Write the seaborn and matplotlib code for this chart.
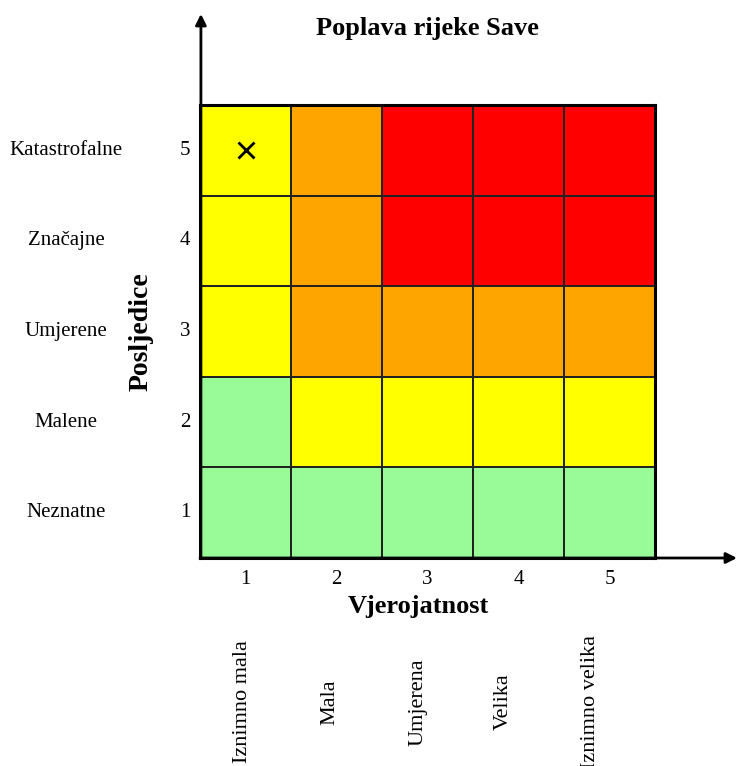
import numpy as np
import pandas as pd
import matplotlib
matplotlib.use("Agg")
import matplotlib.pyplot as plt
from matplotlib.colors import ListedColormap
import seaborn as sns

# Risk matrix data
consequence_levels = [5, 4, 3, 2, 1]            # rows, top to bottom
probability_levels = [1, 2, 3, 4, 5]            # columns, left to right
consequence_names = ["Katastrofalne", "Značajne", "Umjerene", "Malene", "Neznatne"]
probability_names = ["Iznimno mala", "Mala", "Umjerena", "Velika", "Iznimno velika"]

# risk class per cell: 0 = low (green), 1 = yellow, 2 = orange, 3 = red
risk_row5 = [1, 2, 3, 3, 3]
risk_row4 = [1, 2, 3, 3, 3]
risk_row3 = [1, 2, 2, 2, 2]
risk_row2 = [0, 1, 1, 1, 1]
risk_row1 = [0, 0, 0, 0, 0]
risk_colors = ["#98fb98", "#ffff00", "#ffa500", "#ff0000"]

# assessed event (probability, consequence)
event_prob = [1]
event_cons = [5]

SERIF = ["Liberation Serif", "DejaVu Serif"]

sns.set_theme(style="white")
plt.rcParams["font.family"] = SERIF
plt.rcParams["text.color"] = "black"
plt.rcParams["axes.labelcolor"] = "black"
plt.rcParams["xtick.color"] = "black"
plt.rcParams["ytick.color"] = "black"

matrix = pd.DataFrame([risk_row5, risk_row4, risk_row3, risk_row2, risk_row1],
                      index=consequence_levels, columns=probability_levels)

fig = plt.figure(figsize=(7.36, 7.66), dpi=100)
W, H = 736, 766
ax = fig.add_axes([200 / W, (H - 558) / H, 455 / W, 453 / H])

sns.heatmap(matrix, ax=ax, cmap=ListedColormap(risk_colors), vmin=-0.5, vmax=3.5,
            cbar=False, linewidths=1.2, linecolor="#222222", square=False)

for sp in ax.spines.values():
    sp.set_visible(True)
    sp.set_linewidth(2.2)
    sp.set_color("black")

ax.tick_params(axis="both", length=0, labelsize=15, colors="black")
ax.tick_params(axis="x", pad=9)
ax.tick_params(axis="y", pad=7)
ax.set_yticklabels([str(v) for v in consequence_levels], rotation=0)
ax.set_xticklabels([str(v) for v in probability_levels], rotation=0)

ax.set_ylabel("Posljedice", fontsize=20, fontweight="bold", color="black")
ax.yaxis.set_label_coords((154 - 200) / 455, 0.5)
ax.set_xlabel("Vjerojatnost", fontsize=19, fontweight="bold", color="black")
ax.xaxis.set_label_coords((418 - 200) / 455, (558 - 607) / 453)
ax.xaxis.label.set_va("center")

ax.text(0.5, (558 - 35) / 453, "Poplava rijeke Save", transform=ax.transAxes,
        ha="center", va="baseline", fontsize=19, fontweight="bold", color="black")

# consequence names to the left of the numbers
for lvl, name in zip(consequence_levels, consequence_names):
    row = consequence_levels.index(lvl) + 0.5
    ax.text((66 - 200) / 455, row, name, transform=ax.get_yaxis_transform(),
            ha="center", va="center", fontsize=15, color="black")

# probability names, vertical, under the axis label
shift = [0.03, 0.07, 0.1, 0.17, 0.21]
for i, name in enumerate(probability_names):
    ax.text(i + 0.5 - shift[i], (558 - 702) / 453, name, transform=ax.get_xaxis_transform(),
            ha="center", va="center", rotation=90, fontsize=16, color="black", clip_on=False)

# marker for the assessed event
for p, c in zip(event_prob, event_cons):
    ax.plot(probability_levels.index(p) + 0.5, consequence_levels.index(c) + 0.5,
            marker="x", ms=11, mew=2, color="black", linestyle="none")

# axis arrows
arrow = dict(arrowstyle="-|>", color="black", lw=2, mutation_scale=16, shrinkA=0, shrinkB=0)
ax.annotate("", xy=(0.002, (558 - 14) / 453), xytext=(0.002, 0), xycoords="axes fraction",
            textcoords="axes fraction", arrowprops=arrow, annotation_clip=False)
ax.annotate("", xy=((737 - 200) / 455, 0), xytext=(0, 0), xycoords="axes fraction",
            textcoords="axes fraction", arrowprops=arrow, annotation_clip=False)

fig.savefig("out.png", dpi=100)
